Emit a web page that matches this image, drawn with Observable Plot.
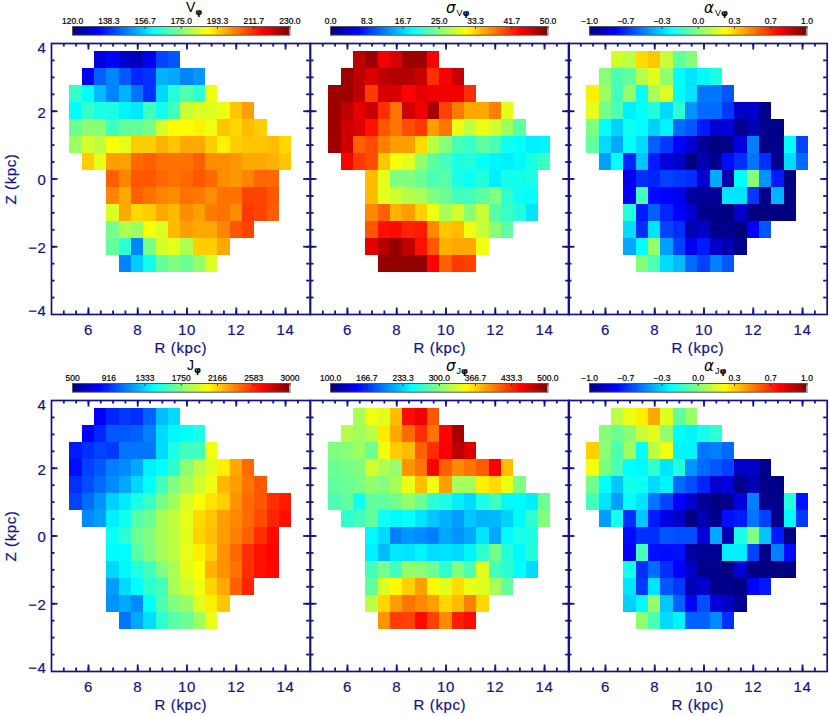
<!DOCTYPE html>
<html><head><meta charset="utf-8">
<script src="https://cdn.jsdelivr.net/npm/d3@7"></script>
<script src="https://cdn.jsdelivr.net/npm/@observablehq/plot@0.6"></script>
<style>
html,body{margin:0;padding:0;background:#fff}
#fig{position:relative;width:830px;height:716px;overflow:hidden}
#fig svg{position:absolute;display:block}
#fig svg.pnl text{stroke:#12128c;stroke-width:.2px;letter-spacing:.6px}
#fig svg.cbr text{stroke:#000;stroke-width:.2px}
.ttl{position:absolute;white-space:nowrap;color:#000;line-height:1}
.ttl .m{font:14px "Liberation Sans",sans-serif}
.ttl .g{font:italic 15px "DejaVu Sans",sans-serif}
.ttl .s{font:9px "Liberation Sans",sans-serif;position:relative;top:2.5px;margin-left:1px}
.ttl .p{font:bold 9px "DejaVu Sans",sans-serif;position:relative;top:2.5px}
</style></head><body><div id="fig"></div>
<script>
// Cell centres
const zRows=[3.5,3,2.5,2,1.5,1,0.5,0,-0.5,-1,-1.5,-2,-2.5];
const rStart=[6.5,6,5.5,5.5,5.5,5.5,6,7,7,7,7,7,7.5];
const rTicksMajor=[6,8,10,12,14];
const zTicksInner=[-2,0,2];

const vPhi=[
[130,134,128,126,132,141,143],
[133,144,148,143,138,139,153,152,148,150],
[167,161,154,148,153,146,139,157,165,170,166,187],
[161,167,164,164,160,159,168,163,168,183,185,185,187,195,199],
[173,176,176,168,172,172,174,184,189,189,190,187,195,193,196,194],
[178,184,182,188,186,194,194,197,195,198,198,194,190,194,195,195,196,193],
[194,186,199,199,205,206,204,204,204,206,201,201,200,198,198,197,195],
[206,202,207,207,205,204,205,207,205,201,200,202,205,205],
[202,198,206,204,202,201,204,203,201,204,204,209,209,207],
[185,198,193,194,198,196,201,199,203,204,201,210,209,206],
[174,180,178,188,185,196,199,198,198,202,207,209],
[172,166,148,174,184,186,180,194,194,198],
[148,156,163,172,175,173,177,185]];

const sigmaV=[
[47,48.5,44.5,45.5,48.5,48.5,44],
[48.5,47,45.5,47,47.5,47.5,46.5,41.5,44,46.5],
[48.5,48.5,47,41,45.5,45.5,43.7,45,44.5,44.5,44.5,41.5],
[48.5,47,45,46.5,41.5,38,46,44.5,48,40.5,37.7,35.5,35.5,37.5,30],
[48.5,46,45.5,43,39.5,38,40,41,36,38,30.3,28,30.3,29,26.5,23.3],
[48.5,46,39,40,37.5,36,36,33,27.8,25.3,22.3,21.5,23.3,22.3,19.5,19,18,18.3],
[43.7,41,40,34,31,30,26,23.3,22,20,20.5,19,18.3,18,18.5,20,21.7],
[34.5,30,25,25,24,22.5,23,20,19.3,20.5,18,19.7,19.7,20],
[34.5,30,29,27.5,27,25,24,22,22,23.3,25,21,19.3,19],
[37,39,35,36,33.5,30.5,27,29,25.5,28.5,23,21.5,20.5,17.5],
[39.5,43,43.3,42,42.5,37,34,34.5,30.5,28.5,25.7,23.3],
[45,47.5,49,47,43,39.5,35,35.5,35.5,30.5],
[49,49,49,49,43.7,39,41,40.5]];

const alphaV=[
[.16,.12,.32,.36,.14,-.06,.01],
[.02,-.10,-.06,.10,.19,.04,-.25,-.30,-.26,-.20],
[.28,.06,-.12,.04,-.25,.08,.18,-.25,-.30,-.52,-.52,-.58],
[.20,-.02,-.10,-.28,-.25,-.18,-.32,-.16,-.46,-.54,-.54,-.64,-.86,-.86,-.98],
[0,-.25,-.34,-.22,-.25,-.34,-.27,-.54,-.58,-.70,-.84,-.82,-.98,-.90,-.98,-.98],
[-.06,-.32,-.42,-.25,-.32,-.56,-.64,-.75,-.84,-.96,-1,-.98,-.82,-.50,-.98,-.98,-.25,-.62],
[-.44,-.25,-.68,-.36,-.70,-.82,-.86,-1,-.90,-.98,-.73,-.66,-.52,-.66,-.98,-.32,-.54],
[-.78,-.66,-.68,-.62,-.64,-.66,-.84,-.42,-.92,-.25,.02,-.46,-.70,-1],
[-.76,-.12,-.73,-.75,-.78,-.94,-.96,-.96,-.30,-.30,-.64,-.98,-.40,-1],
[-.18,-.70,-.56,-.68,-.76,-.84,-.98,-.98,-1,-.86,-1,-1,-1,-1],
[-.32,-.66,-.30,-.62,-.66,-.90,-.86,-.98,-.98,-1,-.75,-.58],
[-.42,-.25,.04,-.44,-.62,-.78,-.70,-.86,-.90,-.98],
[.01,-.10,-.32,-.38,-.54,-.62,-.50,-.58]];

const jPhi=[
[800,900,950,925,1050,1275,1350],
[810,900,1025,1025,1050,1125,1350,1420,1440,1500],
[875,925,975,950,1100,1100,1100,1350,1500,1600,1600,2025],
[840,975,1025,1125,1150,1225,1400,1440,1550,1775,1900,1990,2100,2275,2425],
[925,1000,1075,1150,1225,1340,1440,1600,1750,1850,1950,2025,2240,2300,2400,2475],
[975,1075,1170,1320,1390,1500,1575,1730,1825,1975,2050,2125,2175,2325,2425,2475,2575,2625],
[1150,1200,1400,1475,1650,1700,1840,1910,2000,2150,2200,2300,2350,2425,2500,2600,2650],
[1460,1550,1700,1750,1850,1900,1990,2165,2225,2300,2375,2450,2575,2665],
[1430,1440,1650,1745,1840,1900,2000,2100,2175,2325,2435,2575,2650,2680],
[1340,1420,1525,1600,1750,1850,2000,2060,2250,2330,2400,2575,2650,2670],
[1200,1350,1440,1550,1600,1850,1950,2025,2165,2275,2450,2600],
[1170,1225,1150,1440,1625,1750,1800,1990,2100,2200],
[1100,1225,1360,1550,1650,1700,1825,2010]];

const sigmaJ=[
[316,344,338,376,446,456,416],
[320,312,322,358,384,408,432,404,450,484],
[300,304,312,292,344,370,376,412,432,452,476,464],
[292,296,300,334,318,308,392,404,450,412,396,404,414,452,376],
[288,292,298,308,302,316,342,376,344,388,316,314,356,364,342,300],
[280,288,256,288,288,296,308,292,268,260,244,236,260,276,248,248,244,292],
[268,276,288,256,248,252,240,228,220,212,228,220,222,232,248,268,300],
[248,236,200,208,204,200,216,208,216,240,216,248,260,260],
[244,224,242,240,246,236,240,236,246,268,296,264,248,264],
[276,296,276,308,304,292,268,300,280,338,276,268,250,236],
[288,336,352,368,388,352,338,364,342,338,316,288],
[324,366,388,404,396,388,366,376,400,366],
[392,426,424,446,424,396,438,446]];

const alphaJ=[
[.12,.21,.28,.42,.19,-.06,.05],
[.01,-.04,.02,.14,.20,.04,-.25,-.27,-.21,-.16],
[.34,.02,-.10,.06,-.25,.11,.22,-.27,-.27,-.52,-.50,-.54],
[.23,-.01,-.10,-.25,-.26,-.16,-.30,-.18,-.46,-.54,-.58,-.62,-.86,-.86,-.98],
[-.03,-.25,-.36,-.21,-.23,-.32,-.27,-.54,-.60,-.68,-.84,-.82,-.98,-.90,-.98,-.98],
[-.12,-.30,-.44,-.25,-.30,-.52,-.62,-.75,-.84,-.96,-1,-.98,-.82,-.50,-.98,-.98,-.18,-.72],
[-.44,-.21,-.66,-.36,-.70,-.80,-.86,-1,-.90,-.98,-.72,-.70,-.52,-.62,-.98,-.26,-.64],
[-.73,-.66,-.66,-.58,-.60,-.60,-.82,-.42,-.90,-.20,0,-.36,-.70,-1],
[-.76,-.12,-.72,-.73,-.72,-.94,-.96,-.96,-.28,-.28,-.62,-.98,-.50,-.73],
[-.21,-.66,-.54,-.66,-.76,-.86,-.98,-.98,-1,-.84,-1,-1,-1,-1],
[-.30,-.64,-.30,-.58,-.64,-.90,-.84,-.98,-.98,-1,-.75,-.70],
[-.34,-.26,.04,-.36,-.56,-.75,-.60,-.82,-.86,-.96],
[.03,-.10,-.32,-.27,-.56,-.56,-.48,-.66]];

const vLabels=["120.0","138.3","156.7","175.0","193.3","211.7","230.0"];
const sVLabels=["0.0","8.3","16.7","25.0","33.3","41.7","50.0"];
const aLabels=["\u22121.0","\u22120.7","\u22120.3","0.0","0.3","0.7","1.0"];
const jLabels=["500","916","1333","1750","2166","2583","3000"];
const sJLabels=["100.0","166.7","233.3","300.0","366.7","433.3","500.0"];

const navy="#12128c";
const W=258.7,H=271;
const colX=[51,309.7,568.4], rowY=[42.5,399.5];
const barX=[71.7,330,589], barW=217.5, barH=8.7, barY=[26,383.3];
const xMin=4.5,xMax=15,yMin=-4,yMax=4;
const pxR=W/(xMax-xMin), pxZ=H/(yMax-yMin);

const clip=v=>Math.max(0,Math.min(1,v));
const jet=t=>`rgb(${[3,2,1].map(k=>Math.round(255*clip(1.5-Math.abs(4*t-k)))).join(",")})`;

const fig=document.getElementById("fig");
function place(svg,l,t){svg.style.left=l+"px";svg.style.top=t+"px";fig.appendChild(svg);}

function ticks(values,len){
  const common={stroke:navy,strokeWidth:1.8};
  const dR=len/pxR, dZ=len/pxZ;
  return [
    Plot.ruleX(values.r,{...common,y1:()=>yMin,y2:()=>yMin+dZ}),
    Plot.ruleX(values.r,{...common,y1:()=>yMax,y2:()=>yMax-dZ}),
    Plot.ruleY(values.z,{...common,x1:()=>xMin,x2:()=>xMin+dR}),
    Plot.ruleY(values.z,{...common,x1:()=>xMax,x2:()=>xMax-dR})
  ];
}

function panel(rows,domain,c,r){
  const cells=rows.flatMap((row,i)=>row.map((v,j)=>({R:rStart[i]+j*0.5,Z:zRows[i],v})));
  const ml=c===0?51:2, mr=2, mt=2, mb=46;
  const minorR=d3.range(5,15,0.5), minorZ=d3.range(-3.5,4,0.5);
  const yAxes=c===0?[
    Plot.axisY(zTicksInner,{anchor:"left",tickSize:0,tickPadding:5,dy:1.5,label:"Z (kpc)",labelAnchor:"center",labelArrow:"none",labelOffset:46,fill:navy}),
    Plot.axisY([yMax],{anchor:"left",tickSize:0,tickPadding:5,dy:4.5,label:null,fill:navy}),
    Plot.axisY([yMin],{anchor:"left",tickSize:0,tickPadding:5,dy:-3,label:null,fill:navy})
  ]:[];
  const svg=Plot.plot({
    width:W+ml+mr,height:H+mt+mb,marginLeft:ml,marginRight:mr,marginTop:mt,marginBottom:mb,
    x:{domain:[xMin,xMax]},y:{domain:[yMin,yMax],...(c===0?{}:{axis:null})},
    color:{type:"linear",domain,interpolate:jet,clamp:true},
    style:{background:"transparent",color:navy,fontFamily:"Liberation Sans",fontSize:"15px",overflow:"visible"},
    marks:[
      Plot.rect(cells,{x1:d=>d.R-0.25,x2:d=>d.R+0.25,y1:d=>d.Z-0.25,y2:d=>d.Z+0.25,fill:"v",shapeRendering:"crispEdges"}),
      ...ticks({r:minorR,z:minorZ},3.5),
      ...ticks({r:rTicksMajor,z:zTicksInner},6.5),
      Plot.frame({stroke:navy,strokeWidth:1.7}),
      Plot.axisX(rTicksMajor,{anchor:"bottom",tickSize:0,tickPadding:10,label:"R (kpc)",labelAnchor:"center",labelArrow:"none",labelOffset:39,fill:navy}),
      ...yAxes
    ]
  });
  svg.classList.add("pnl");
  place(svg,colX[c]-ml,rowY[r]-mt);
}

function colorbar(labels,domain,c,r){
  const [a,b]=domain;
  const n=256, positions=d3.range(7).map(i=>a+(b-a)*i/6);
  const steps=d3.range(n).map(i=>({x1:a+(b-a)*i/n,x2:a+(b-a)*(i+1)/n,v:a+(b-a)*(i+0.5)/n}));
  const mt=16,ms=14;
  const svg=Plot.plot({
    width:barW+2*ms,height:barH+mt+2,marginLeft:ms,marginRight:ms,marginTop:mt,marginBottom:2,
    x:{domain},y:{domain:[0,1],axis:null},
    color:{type:"linear",domain,interpolate:jet},
    style:{background:"transparent",color:"#000",fontFamily:"Liberation Sans",fontSize:"8.5px",overflow:"visible"},
    marks:[
      Plot.rect(steps,{x1:"x1",x2:"x2",y1:()=>0,y2:()=>1,fill:"v",shapeRendering:"crispEdges"}),
      Plot.ruleX(positions,{y1:()=>1,y2:()=>0.7,stroke:"#222",strokeWidth:1}),
      Plot.frame({stroke:"#555",strokeWidth:1}),
      Plot.axisX(positions,{anchor:"top",tickSize:0,tickPadding:2,tickFormat:(d,i)=>labels[i],label:null,fill:"#000"})
    ]
  });
  svg.classList.add("cbr");
  place(svg,barX[c]-ms,barY[r]-mt);
}

function title(x,y,main,sub,greek){
  const d=document.createElement("div");d.className="ttl";d.style.left=x+"px";d.style.top=y+"px";
  const m=document.createElement("span");m.className=greek?"g":"m";m.textContent=main;d.appendChild(m);
  if(sub){const s=document.createElement("span");s.className="s";s.textContent=sub;d.appendChild(s);}
  const p=document.createElement("span");p.className="p";p.textContent="\u03c6";d.appendChild(p);
  fig.appendChild(d);
}

panel(vPhi,[120,230],0,0);
panel(sigmaV,[0,50],1,0);
panel(alphaV,[-1,1],2,0);
panel(jPhi,[500,3000],0,1);
panel(sigmaJ,[100,500],1,1);
panel(alphaJ,[-1,1],2,1);
colorbar(vLabels,[120,230],0,0);
colorbar(sVLabels,[0,50],1,0);
colorbar(aLabels,[-1,1],2,0);
colorbar(jLabels,[500,3000],0,1);
colorbar(sJLabels,[100,500],1,1);
colorbar(aLabels,[-1,1],2,1);
title(186,-1,"V","",false);
title(446,-1,"\u03c3","V",true);
title(704,-1,"\u03b1","V",true);
title(187,357,"J","",false);
title(446,357,"\u03c3","J",true);
title(704,357,"\u03b1","J",true);
</script></body></html>
